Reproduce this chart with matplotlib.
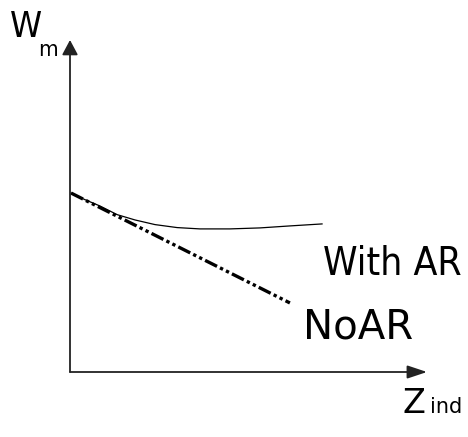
import matplotlib
matplotlib.use('Agg')
import matplotlib.pyplot as plt

# Curve values (arbitrary units, axes run 0..10)
z_with_ar = [0.03, 0.42, 0.84, 1.32, 1.82, 2.38, 3.0, 3.64, 4.48, 5.32, 6.16, 7.06]
w_with_ar = [5.39, 5.19, 5.0, 4.74, 4.58, 4.44, 4.35, 4.31, 4.31, 4.34, 4.40, 4.46]

z_no_ar = [0.03, 6.16]
w_no_ar = [5.39, 2.08]

labels = ['With AR', 'NoAR']

W, H = 468, 437
fig = plt.figure(figsize=(W / 100, H / 100), dpi=100)

# axes box: origin at pixel (70, 372), arrow tips at x=427 / y=40
left, bottom = 70 / W, (H - 372) / H
ax = fig.add_axes([left, bottom, (427 - 70) / W, (372 - 40) / H])
ax.set_xlim(0, 10)
ax.set_ylim(0, 10)
ax.axis('off')

# axis arrows
ax.annotate('', xy=(10, 0), xytext=(0, 0), annotation_clip=False,
            arrowprops=dict(arrowstyle='-|>,head_length=0.6,head_width=0.2',
                            mutation_scale=20, lw=1.3, color='#222222',
                            shrinkA=0, shrinkB=0))
ax.annotate('', xy=(0, 10), xytext=(0, 0), annotation_clip=False,
            arrowprops=dict(arrowstyle='-|>,head_length=0.45,head_width=0.24',
                            mutation_scale=20, lw=1.3, color='#222222',
                            shrinkA=0, shrinkB=0))

ax.plot(z_with_ar, w_with_ar, color='black', lw=0.9, clip_on=False)
ax.plot(z_no_ar, w_no_ar, color='black', lw=2.4, clip_on=False,
        dashes=(4.0, 1.0, 1.0, 1.0, 1.0, 1.0), solid_capstyle='butt',
        dash_capstyle='butt')

font = 'DejaVu Sans'

ax.text(7.09, 2.92, labels[0], fontsize=28, family=font, stretch='condensed',
        ha='left', va='baseline')
ax.text(6.53, 1.02, labels[1], fontsize=29, family=font, ha='left', va='baseline')

# axis labels
ax.text(-1.68, 10.09, 'W', fontsize=26, family=font, stretch='condensed',
        ha='left', va='baseline', clip_on=False)
ax.text(-0.9, 9.52, 'm', fontsize=16, family=font, stretch='condensed',
        ha='left', va='baseline', clip_on=False)
ax.text(9.3, -1.23, 'Z', fontsize=24, family=font, ha='left', va='baseline',
        clip_on=False)
ax.text(10.08, -1.23, 'ind', fontsize=15, family=font, ha='left', va='baseline',
        clip_on=False)

fig.savefig('out.png', dpi=100)
